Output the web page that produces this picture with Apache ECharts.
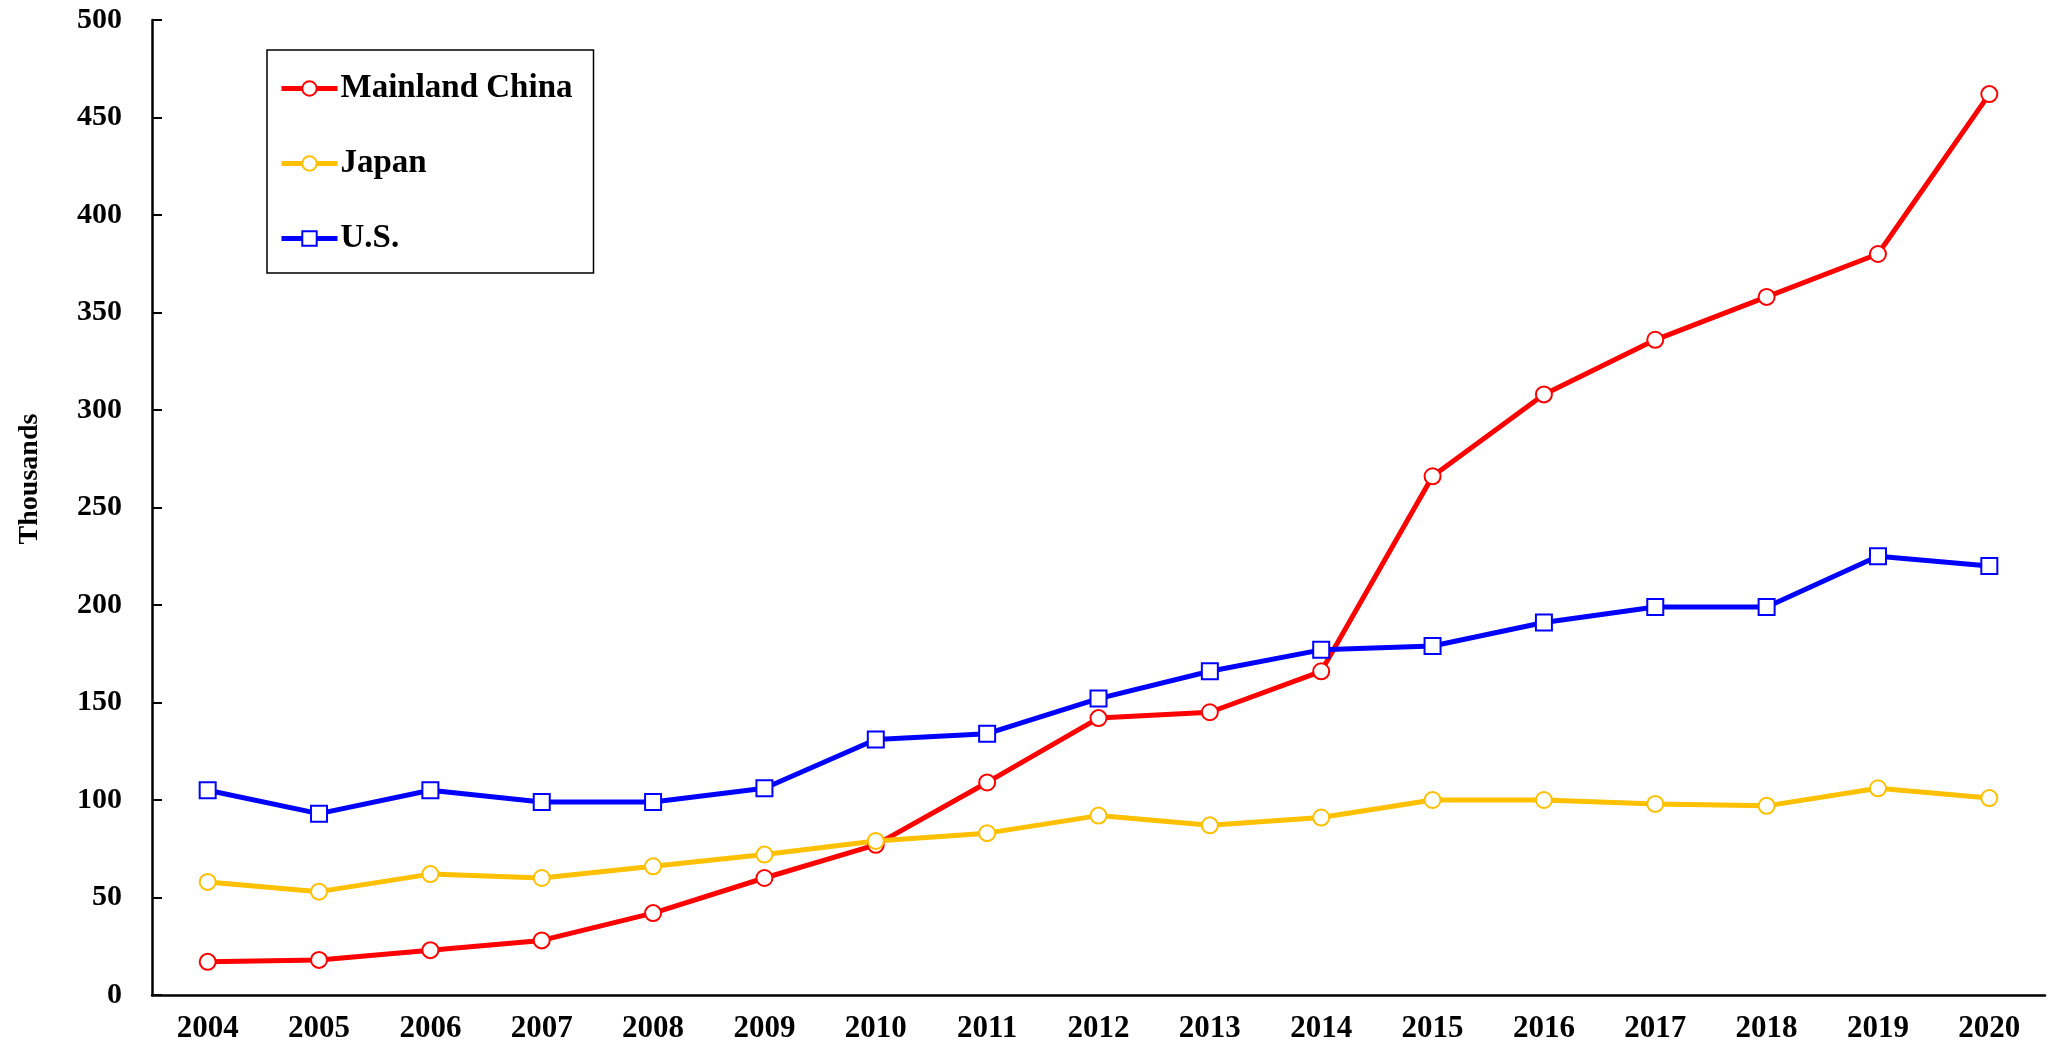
<!DOCTYPE html>
<html>
<head>
<meta charset="utf-8">
<script src="https://cdn.jsdelivr.net/npm/echarts@6/dist/echarts.min.js"></script>
<style>
  html, body { margin: 0; padding: 0; background: #fff; }
  #chart { width: 2053px; height: 1046px; }
</style>
</head>
<body>
<div id="chart"></div>
<script>
const years = ['2004', '2005', '2006', '2007', '2008', '2009', '2010', '2011', '2012',
    '2013', '2014', '2015', '2016', '2017', '2018', '2019', '2020'];

// thousands
const china = [17, 18, 23, 28, 42, 60, 77, 109, 142, 145, 166, 266, 308, 336, 358, 380, 462];
const japan = [58, 53, 62, 60, 66, 72, 79, 83, 92, 87, 91, 100, 100, 98, 97, 106, 101];
const us = [105, 93, 105, 99, 99, 106, 131, 134, 152, 166, 177, 179, 191, 199, 199, 225, 220];

const fontFam = '"Liberation Serif", "Times New Roman", serif';

const chartDom = document.getElementById('chart');
const chart = echarts.init(chartDom);

function lineSeries(name, data, color, symbol, size) {
    return {
        name: name,
        type: 'line',
        data: data,
        symbol: symbol,
        symbolSize: size,
        showAllSymbol: true,
        lineStyle: { color: color, width: 5 },
        itemStyle: { color: '#fff', borderColor: color, borderWidth: 2 },
        emphasis: { disabled: true },
        z: 3
    };
}

let option = {
    animation: false,
    backgroundColor: '#fff',
    grid: {
        left: 152,
        right: 8,
        top: 20,
        bottom: 51,
        containLabel: false
    },
    legend: {
        left: 267,
        top: 50,
        orient: 'vertical',
        width: 326,
        padding: [22, 21, 18, 12],
        itemGap: 42,
        itemWidth: 56,
        itemHeight: 18,
        borderColor: '#000',
        borderWidth: 1.5,
        lineStyle: { width: 5 },
        textStyle: {
            fontFamily: fontFam,
            fontWeight: 'bold',
            fontSize: 33,
            color: '#000',
            padding: [0, 0, 0, -2]
        },
        data: ['Mainland China', 'Japan', 'U.S.']
    },
    graphic: [{
        type: 'text',
        rotation: Math.PI / 2,
        x: 30,
        y: 479,
        style: {
            text: 'Thousands',
            fontFamily: fontFam,
            fontWeight: 'bold',
            fontSize: 28,
            fill: '#000',
            align: 'center',
            verticalAlign: 'middle'
        }
    }],
    xAxis: {
        type: 'category',
        data: years,
        boundaryGap: true,
        axisLine: { lineStyle: { color: '#000', width: 2.5 } },
        axisTick: { inside: true, length: 10, interval: 0, lineStyle: { color: '#000', width: 2 } },
        axisLabel: {
            interval: 0,
            margin: 18,
            fontFamily: fontFam,
            fontWeight: 'bold',
            fontSize: 31,
            color: '#000'
        },
        splitLine: { show: false }
    },
    yAxis: {
        type: 'value',
        min: 0,
        max: 500,
        interval: 50,
        axisLine: { show: true, lineStyle: { color: '#000', width: 2.5 } },
        axisTick: { show: true, inside: true, length: 10, lineStyle: { color: '#000', width: 2 } },
        axisLabel: {
            margin: 30,
            fontFamily: fontFam,
            fontWeight: 'bold',
            fontSize: 30,
            color: '#000'
        },
        splitLine: { show: false }
    },
    series: [
        lineSeries('Mainland China', china, '#ff0000', 'circle', 16),
        lineSeries('Japan', japan, '#ffc000', 'circle', 16),
        lineSeries('U.S.', us, '#0000ff', 'rect', 16)
    ]
};

chart.setOption(option);
</script>
</body>
</html>
